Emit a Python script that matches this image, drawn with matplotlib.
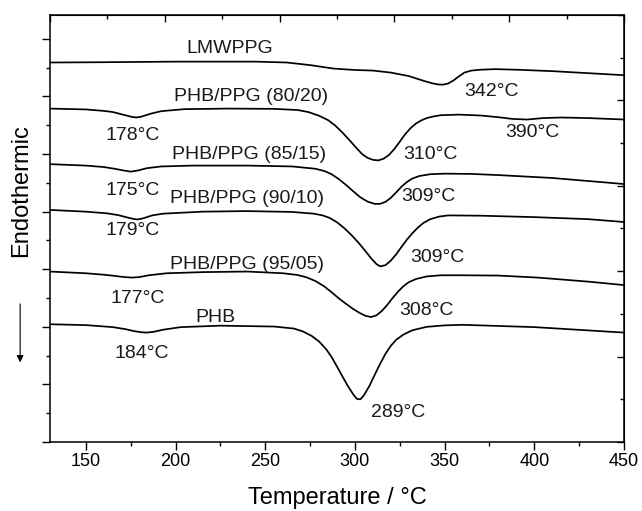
import matplotlib
matplotlib.use("Agg")
import matplotlib.pyplot as plt
from matplotlib.ticker import MultipleLocator, NullFormatter

plt.rcParams['font.family'] = ['Liberation Sans', 'DejaVu Sans']

# DSC traces (temperature in degC, heat flow in arbitrary stacked units)
t_lmw = [130, 160, 200, 245, 262, 275, 288, 300, 310, 320, 330, 335, 339, 343,
         346, 349, 352, 355, 358, 361, 365, 370, 378, 390, 410, 430, 450]
y_lmw = [13.18, 13.19, 13.21, 13.21, 13.18, 13.09, 12.97, 12.92, 12.90, 12.83,
         12.71, 12.61, 12.53, 12.46, 12.42, 12.41, 12.45, 12.56, 12.70, 12.83,
         12.90, 12.93, 12.95, 12.93, 12.88, 12.81, 12.74]

t_8020 = [130, 150, 160, 165, 170, 175, 178, 181, 186, 192, 205, 230, 255, 268,
          274, 280, 285, 289, 293, 297, 301, 304, 307, 310, 313, 316, 319, 322,
          325, 328, 331, 334, 337, 340, 344, 348, 358, 370, 380, 388, 396, 405,
          415, 430, 450]
y_8020 = [11.58, 11.55, 11.50, 11.46, 11.38, 11.30, 11.27, 11.30, 11.40, 11.49,
          11.56, 11.58, 11.57, 11.53, 11.46, 11.33, 11.18, 10.99, 10.75, 10.48,
          10.20, 10.00, 9.87, 9.80, 9.78, 9.84, 9.97, 10.18, 10.43, 10.69, 10.90,
          11.06, 11.17, 11.25, 11.31, 11.35, 11.37, 11.34, 11.28, 11.22, 11.20,
          11.25, 11.27, 11.25, 11.20]

t_8515 = [130, 150, 160, 166, 171, 175, 179, 184, 192, 210, 240, 265, 278, 283,
          287, 291, 295, 299, 303, 307, 311, 314, 317, 320, 323, 326, 329, 332,
          336, 342, 350, 365, 380, 410, 450]
y_8515 = [9.65, 9.60, 9.55, 9.49, 9.43, 9.39, 9.43, 9.51, 9.57, 9.60, 9.60,
          9.57, 9.49, 9.41, 9.30, 9.13, 8.93, 8.71, 8.50, 8.35, 8.27, 8.27, 8.34,
          8.48, 8.67, 8.87, 9.03, 9.15, 9.24, 9.30, 9.32, 9.31, 9.27, 9.17, 8.96]

t_9010 = [130, 150, 162, 168, 173, 177, 179, 182, 187, 193, 215, 240, 265, 277,
          282, 286, 290, 294, 298, 302, 306, 309, 312, 314, 317, 320, 323, 326,
          329, 332, 335, 338, 342, 347, 352, 370, 400, 430, 450]
y_9010 = [8.06, 8.00, 7.94, 7.88, 7.80, 7.74, 7.73, 7.77, 7.87, 7.93, 8.00,
          8.02, 7.99, 7.93, 7.87, 7.78, 7.63, 7.43, 7.19, 6.92, 6.62, 6.38, 6.18,
          6.10, 6.14, 6.30, 6.52, 6.78, 7.03, 7.25, 7.44, 7.60, 7.74, 7.83, 7.87,
          7.86, 7.81, 7.74, 7.64]

t_9505 = [130, 150, 160, 166, 171, 176, 180, 185, 195, 215, 240, 260, 268, 273,
          278, 283, 287, 291, 295, 299, 303, 306, 309, 312, 315, 318, 321, 324,
          327, 330, 334, 340, 348, 360, 380, 402, 430, 450]
y_9505 = [5.92, 5.86, 5.81, 5.77, 5.73, 5.71, 5.73, 5.79, 5.86, 5.90, 5.92,
          5.86, 5.80, 5.72, 5.59, 5.40, 5.20, 4.99, 4.80, 4.62, 4.47, 4.38, 4.34,
          4.40, 4.55, 4.76, 5.00, 5.22, 5.41, 5.55, 5.66, 5.75, 5.79, 5.79, 5.78,
          5.71, 5.57, 5.45]

t_phb = [130, 150, 165, 172, 177, 181, 184, 188, 193, 203, 225, 255, 266, 271,
         276, 280, 284, 287, 290, 293, 296, 299, 301, 303, 305, 308, 311, 314,
         317, 320, 323, 327, 332, 340, 350, 360, 400, 450]
y_phb = [4.09, 4.06, 3.99, 3.92, 3.85, 3.81, 3.80, 3.83, 3.90, 3.99, 4.04,
         4.01, 3.94, 3.84, 3.68, 3.49, 3.22, 2.95, 2.62, 2.28, 1.95, 1.66, 1.50,
         1.48, 1.62, 1.94, 2.33, 2.71, 3.06, 3.34, 3.55, 3.73, 3.88, 4.00, 4.05,
         4.07, 3.99, 3.80]

curves = [(t_lmw, y_lmw), (t_8020, y_8020), (t_8515, y_8515),
          (t_9010, y_9010), (t_9505, y_9505), (t_phb, y_phb)]

# annotations: text, temperature, y
labels = [
    ("LMWPPG", 230, 13.65), ("342°C", 376, 12.17),
    ("PHB/PPG (80/20)", 242, 12.01), ("178°C", 176, 10.66),
    ("390°C", 399, 10.76), ("310°C", 342, 9.97),
    ("PHB/PPG (85/15)", 241, 9.97), ("175°C", 176, 8.75),
    ("309°C", 341, 8.52), ("PHB/PPG (90/10)", 240, 8.47),
    ("179°C", 176, 7.33), ("309°C", 346, 6.41),
    ("PHB/PPG (95/05)", 240, 6.15), ("177°C", 179, 4.97),
    ("308°C", 340, 4.58), ("PHB", 222, 4.31),
    ("184°C", 181, 3.09), ("289°C", 324, 1.04),
]

fig = plt.figure(figsize=(6.42, 5.11), dpi=100)
ax = fig.add_axes([50 / 642, 69 / 511, 574 / 642, 427 / 511])

for t, y in curves:
    ax.plot(t, y, color='black', lw=1.25, solid_joinstyle='round')

for txt, tx, ty in labels:
    ax.text(tx, ty, txt, fontsize=14, ha='center', va='center', color='#1a1a1a')

ax.set_xlim(130, 450)
ax.set_ylim(0, 14.83)
ax.xaxis.set_major_locator(MultipleLocator(50))
ax.xaxis.set_minor_locator(MultipleLocator(25))
ax.yaxis.set_major_locator(MultipleLocator(2))
ax.yaxis.set_minor_locator(MultipleLocator(1))
ax.yaxis.set_major_formatter(NullFormatter())
ax.tick_params(axis='both', which='major', direction='out', length=6, width=1,
               labelsize=13, pad=2)
ax.tick_params(axis='both', which='minor', direction='out', length=3, width=1)
for sp in ax.spines.values():
    sp.set_linewidth(1.1)

# top and right frame ticks (inside, unlabelled)
top = ax.secondary_xaxis('top', functions=(lambda v: (v - 130) / 320,
                                           lambda f: 130 + 320 * f))
top.xaxis.set_major_locator(MultipleLocator(0.2))
top.xaxis.set_minor_locator(MultipleLocator(0.1))
top.tick_params(which='major', direction='in', length=5, width=1, labeltop=False)
top.tick_params(which='minor', direction='in', length=3, width=1)

right = ax.secondary_yaxis('right', functions=(lambda v: v / 14.83,
                                               lambda f: f * 14.83))
right.yaxis.set_major_locator(MultipleLocator(0.2))
right.yaxis.set_minor_locator(MultipleLocator(0.1))
right.tick_params(which='major', direction='in', length=5, width=1, labelright=False)
right.tick_params(which='minor', direction='in', length=3, width=1)

ax.set_xlabel("Temperature / °C", fontsize=17, labelpad=12)
ax.set_ylabel("Endothermic", fontsize=17, va='center')
ax.yaxis.set_label_coords(-0.05, 0.588)

ax.annotate("", xy=(-0.052, 0.18), xytext=(-0.052, 0.33),
            xycoords='axes fraction', annotation_clip=False,
            arrowprops=dict(arrowstyle='-|>', color='black', lw=0.8,
                            mutation_scale=10))

fig.savefig("out.png", dpi=100)
